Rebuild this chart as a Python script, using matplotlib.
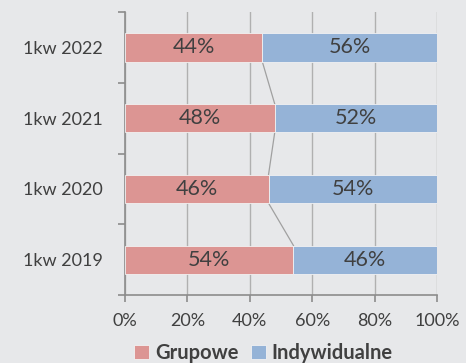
import matplotlib.pyplot as plt
import numpy as np

# share of trips by type, per first quarter
categories = ['1kw 2019', '1kw 2020', '1kw 2021', '1kw 2022']
grupowe = [54, 46, 48, 44]
indywidualne = [46, 54, 52, 56]
x_ticks = [0, 20, 40, 60, 80, 100]

bg = '#e7e8ea'
pink = '#dc9593'
blue = '#95b3d7'
txt = '#404040'
axis_col = '#8c8c8c'

plt.rcParams['font.family'] = ['Lato', 'DejaVu Sans']

fig = plt.figure(figsize=(4.66, 3.63), dpi=100, facecolor=bg)
ax = fig.add_axes([0.268, 0.187, 0.67, 0.78], facecolor=bg)

y = np.arange(len(categories))
h = 0.4
ax.barh(y, grupowe, height=h, color=pink, edgecolor='#f2f2f2', linewidth=0.6,
        label='Grupowe', zorder=3)
ax.barh(y, indywidualne, left=grupowe, height=h, color=blue, edgecolor='#f2f2f2',
        linewidth=0.6, label='Indywidualne', zorder=3)

# series lines joining the boundary between segments
for i in range(len(y) - 1):
    ax.plot([grupowe[i], grupowe[i + 1]], [y[i] + h / 2, y[i + 1] - h / 2],
            color='#a0a0a0', linewidth=0.9, zorder=2)

for i in range(len(y)):
    ax.text(grupowe[i] / 2, y[i], f'{grupowe[i]}%', ha='center', va='center',
            fontsize=15.5, color=txt, zorder=4)
    ax.text(grupowe[i] + indywidualne[i] / 2, y[i], f'{indywidualne[i]}%',
            ha='center', va='center', fontsize=15.5, color=txt, zorder=4)

ax.set_xlim(0, 100)
ax.set_ylim(-0.5, len(categories) - 0.5)
ax.set_xticks(x_ticks)
ax.set_xticklabels([f'{t}%' for t in x_ticks], fontsize=13, color=txt)
ax.set_yticks(y)
ax.set_yticklabels(categories, fontsize=13, color=txt)
ax.set_yticks(np.arange(-0.5, len(categories), 1), minor=True)

ax.tick_params(axis='y', which='major', length=0, pad=16)
ax.tick_params(axis='y', which='minor', length=5, color=axis_col, width=1.2)
ax.tick_params(axis='x', length=5, color=axis_col, width=1.2, pad=8)

ax.grid(axis='x', color='#b0b0b0', linewidth=1, zorder=0)
for s in ['top', 'right']:
    ax.spines[s].set_visible(False)
for s in ['left', 'bottom']:
    ax.spines[s].set_color(axis_col)
    ax.spines[s].set_linewidth(1.2)

fig.legend(loc='lower center', bbox_to_anchor=(0.565, -0.05), ncol=2, frameon=False,
           handlelength=0.75, handleheight=0.75, handletextpad=0.3, columnspacing=0.6,
           prop={'size': 14.5, 'weight': 'bold'}, labelcolor=txt)

fig.savefig('out.png', dpi=100, facecolor=bg)
